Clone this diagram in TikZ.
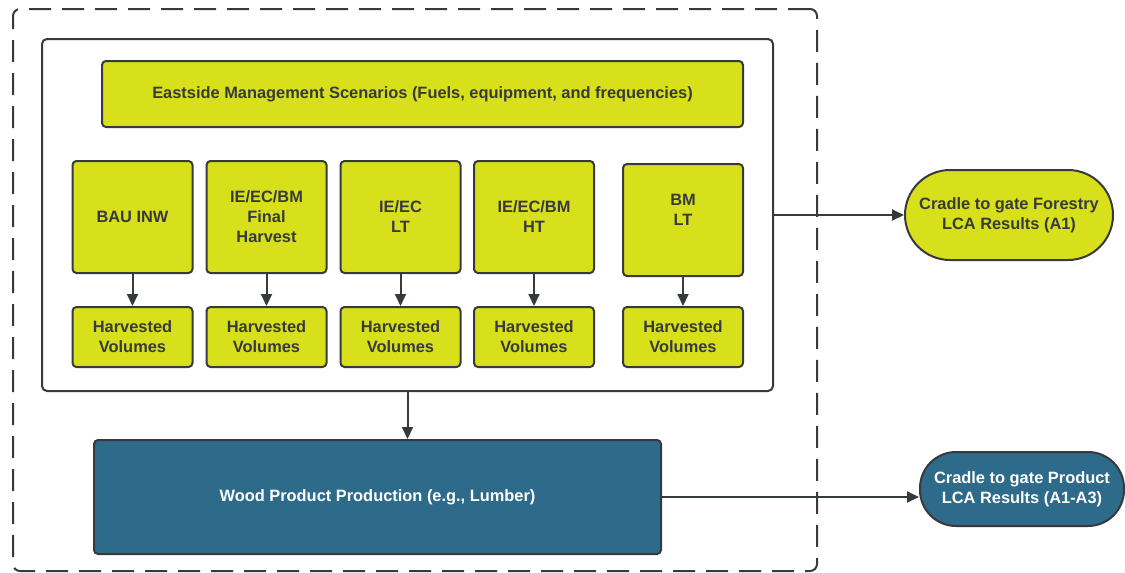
\documentclass[tikz,border=0pt]{standalone}
\usepackage{fontspec}
\setmainfont{Liberation Sans}
\usetikzlibrary{arrows.meta}
\definecolor{limegreen}{RGB}{216,224,27}
\definecolor{woodblue}{RGB}{46,106,138}
\definecolor{ink}{RGB}{55,58,60}
\begin{document}
\begin{tikzpicture}[x=1pt,y=-1pt,
  font=\fontsize{16.4}{20}\selectfont\bfseries,
  every node/.style={inner sep=0pt, align=center},
  gbox/.style={draw=ink, line width=2pt, rounded corners=4pt, fill=limegreen, text=ink},
  bbox/.style={draw=ink, line width=2pt, rounded corners=4pt, fill=woodblue, text=white},
  frame/.style={draw=ink, line width=2pt, rounded corners=5pt},
  dframe/.style={draw=ink, line width=2pt, rounded corners=7pt, dash pattern=on 22pt off 11pt},
  arr/.style={draw=ink, line width=2pt, -{Triangle[length=12pt,width=11pt]}}
]
\useasboundingbox (0,0) rectangle (1125,573);

\node[dframe, minimum width=804pt, minimum height=562pt] (outer) at (415,290) {};
\node[frame, minimum width=731pt, minimum height=352pt] (inner) at (407.5,215) {};

\node[gbox, minimum width=641pt, minimum height=66pt] (hdr) at (422.5,94)
  {Eastside Management Scenarios (Fuels, equipment, and frequencies)};

\node[gbox, minimum width=120pt, minimum height=112pt] (s1) at (132.5,217) {BAU INW};
\node[gbox, minimum width=120pt, minimum height=112pt] (s2) at (266.5,217) {IE/EC/BM\\Final\\Harvest};
\node[gbox, minimum width=120pt, minimum height=112pt] (s3) at (400.5,217) {IE/EC\\LT};
\node[gbox, minimum width=120pt, minimum height=112pt] (s4) at (534,217) {IE/EC/BM\\HT};
\node[gbox, minimum width=120pt, minimum height=112pt] (s5) at (683,220) {BM\\LT\\\mbox{}};

\foreach \i/\x in {1/132.5,2/266.5,3/400.5,4/534,5/683}{
  \node[gbox, minimum width=120pt, minimum height=60pt] (h\i) at (\x,337) {Harvested\\Volumes};
  \draw[arr] (s\i.south) -- (h\i.north);
}

\node[gbox, rounded corners=45pt, minimum width=208pt, minimum height=90pt] (forest) at (1009,215)
  {Cradle to gate Forestry\\LCA Results (A1)};
\draw[arr] (inner.east) -- (forest.west);

\node[bbox, minimum width=567pt, minimum height=114pt] (wood) at (377.5,497)
  {Wood Product Production (e.g., Lumber)};
\draw[arr] (inner.south) -- (inner.south |- wood.north);

\node[bbox, rounded corners=36pt, minimum width=204pt, minimum height=74pt] (prod) at (1022,489)
  {Cradle to gate Product\\LCA Results (A1-A3)};
\draw[arr] (wood.east) -- (wood.east -| prod.west);
\end{tikzpicture}
\end{document}
